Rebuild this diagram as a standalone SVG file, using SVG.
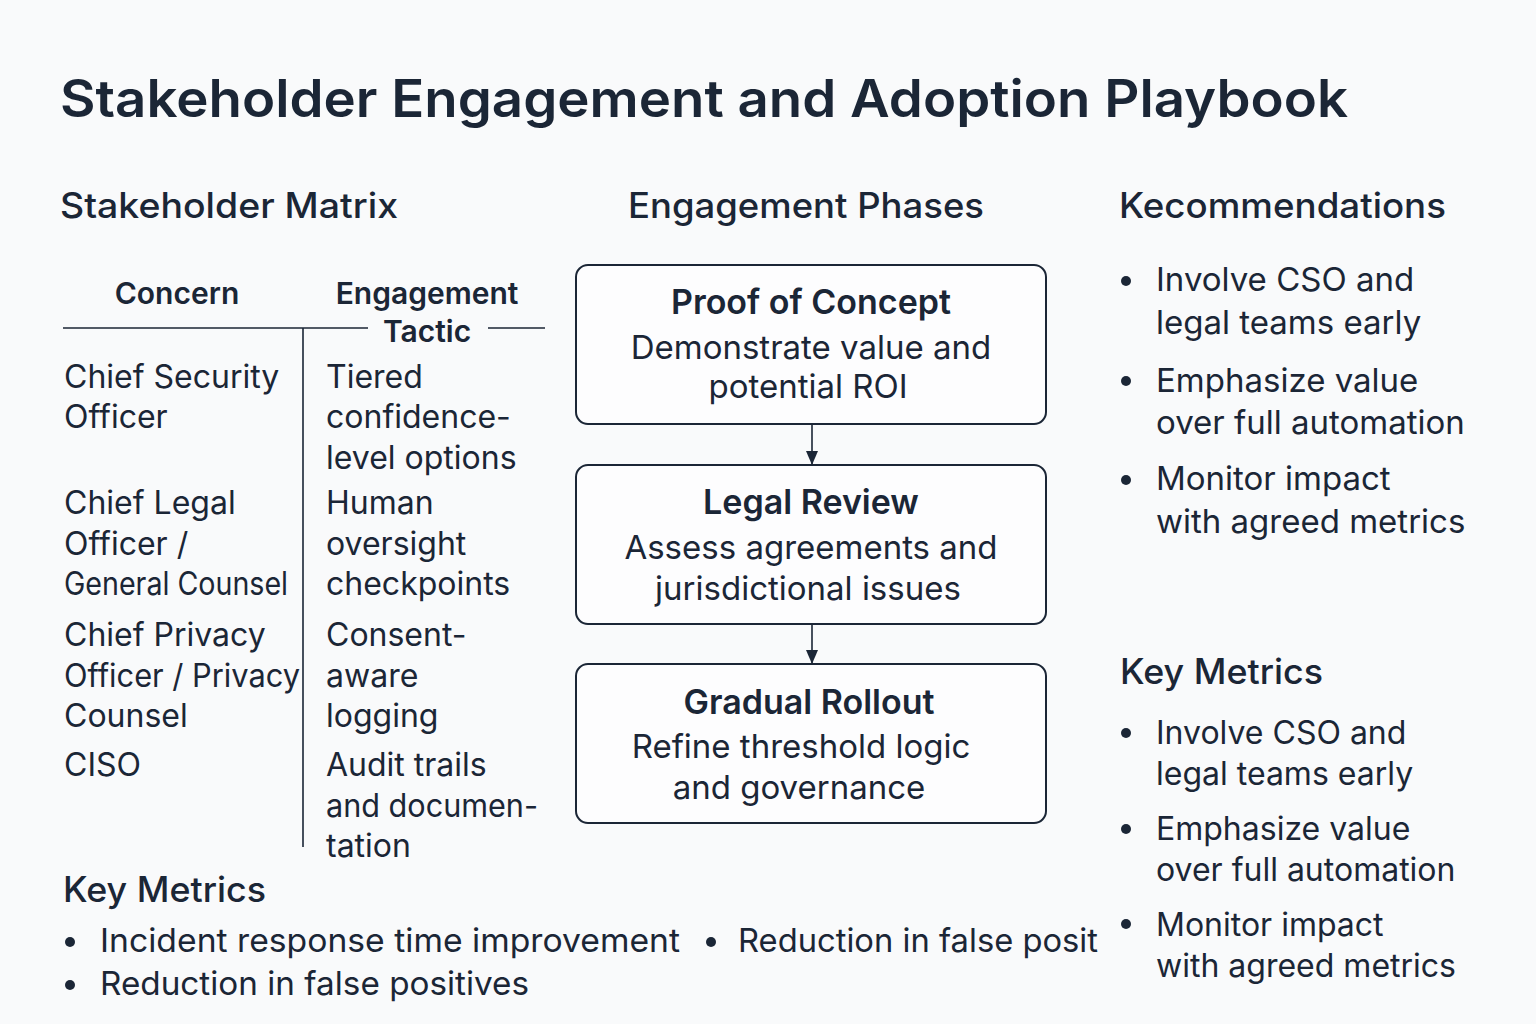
<svg xmlns="http://www.w3.org/2000/svg" width="1536" height="1024" viewBox="0 0 1536 1024">
<defs>
<marker id="ah" markerWidth="14" markerHeight="12" refX="13" refY="6" orient="auto" markerUnits="userSpaceOnUse">
<path d="M0,0 L14,6 L0,12 Z" fill="#1b2636"/>
</marker>
<style>
text{font-family:Inter,"Noto Sans","Liberation Sans",sans-serif;fill:#1b2636}
.title{font-size:52px;font-weight:600}
.h2{font-size:35px;font-weight:500}
.th{font-size:30px;font-weight:600;text-anchor:middle}
.cell{font-size:32px}
.bt{font-size:34px;font-weight:600;text-anchor:middle}
.bd{font-size:33px;text-anchor:middle}
.li{font-size:33px}
.li2{font-size:32px}
.box{fill:#fdfdfe;stroke:#1b2636;stroke-width:2}
.rule{stroke:#1b2636;stroke-width:1.6;fill:none}
.dot{fill:#1b2636}
</style>
</defs>
<rect width="1536" height="1024" fill="#f9fafb"/>
<text class="title" x="60" y="117" textLength="1288" lengthAdjust="spacingAndGlyphs">Stakeholder Engagement and Adoption Playbook</text>

<g id="stakeholder-matrix">
<text class="h2" x="60" y="218" textLength="338" lengthAdjust="spacingAndGlyphs">Stakeholder Matrix</text>
<text class="th" x="177" y="304">Concern</text>
<text class="th" x="427" y="304">Engagement</text>
<text class="th" x="427" y="342">Tactic</text>
<path class="rule" d="M63,328 H368 M488,328 H545 M303,328 V847"/>
<g>
<text class="cell" x="64" y="388">Chief Security</text>
<text class="cell" x="64" y="428">Officer</text>
<text class="cell" x="64" y="514">Chief Legal</text>
<text class="cell" x="64" y="555">Officer /</text>
<text class="cell" x="64" y="595" textLength="224" lengthAdjust="spacingAndGlyphs">General Counsel</text>
<text class="cell" x="64" y="646">Chief Privacy</text>
<text class="cell" x="64" y="687" textLength="236" lengthAdjust="spacingAndGlyphs">Officer / Privacy</text>
<text class="cell" x="64" y="727">Counsel</text>
<text class="cell" x="64" y="776">CISO</text>
<text class="cell" x="326" y="388">Tiered</text>
<text class="cell" x="326" y="428">confidence-</text>
<text class="cell" x="326" y="469">level options</text>
<text class="cell" x="326" y="514">Human</text>
<text class="cell" x="326" y="555">oversight</text>
<text class="cell" x="326" y="595">checkpoints</text>
<text class="cell" x="326" y="646">Consent-</text>
<text class="cell" x="326" y="687">aware</text>
<text class="cell" x="326" y="727">logging</text>
<text class="cell" x="326" y="776">Audit trails</text>
<text class="cell" x="326" y="817" textLength="212" lengthAdjust="spacingAndGlyphs">and documen-</text>
<text class="cell" x="326" y="857">tation</text>
</g>
</g>

<g id="key-metrics-bottom">
<text class="h2" x="63" y="902" textLength="203" lengthAdjust="spacingAndGlyphs">Key Metrics</text>
<circle class="dot" cx="70" cy="942" r="5"/>
<text class="li" x="100" y="952" textLength="580" lengthAdjust="spacingAndGlyphs">Incident response time improvement</text>
<circle class="dot" cx="711" cy="942" r="5"/>
<text class="li" x="738" y="952" textLength="360" lengthAdjust="spacingAndGlyphs">Reduction in false posit</text>
<circle class="dot" cx="70" cy="985" r="5"/>
<text class="li" x="100" y="995" textLength="429" lengthAdjust="spacingAndGlyphs">Reduction in false positives</text>
</g>

<text class="h2" x="628" y="218" textLength="356" lengthAdjust="spacingAndGlyphs">Engagement Phases</text>

<g id="proof-of-concept">
<rect class="box" x="576" y="265" width="470" height="159" rx="12"/>
<text class="bt" x="811" y="314">Proof of Concept</text>
<text class="bd" x="811" y="359">Demonstrate value and</text>
<text class="bd" x="808" y="398">potential ROI</text>
</g>
<g id="legal-review">
<rect class="box" x="576" y="465" width="470" height="159" rx="12"/>
<text class="bt" x="811" y="514">Legal Review</text>
<text class="bd" x="811" y="559">Assess agreements and</text>
<text class="bd" x="808" y="600">jurisdictional issues</text>
</g>
<g id="gradual-rollout">
<rect class="box" x="576" y="664" width="470" height="159" rx="12"/>
<text class="bt" x="809" y="714">Gradual Rollout</text>
<text class="bd" x="801" y="758">Refine threshold logic</text>
<text class="bd" x="799" y="799">and governance</text>
</g>

<g id="connectors">
<path class="rule" d="M812,425 V464" marker-end="url(#ah)"/>
<path class="rule" d="M812,625 V663" marker-end="url(#ah)"/>
</g>

<g id="recommendations">
<text class="h2" x="1119" y="218" textLength="327" lengthAdjust="spacingAndGlyphs">Kecommendations</text>
<circle class="dot" cx="1126" cy="281" r="5"/>
<text class="li" x="1156" y="291">Involve CSO and</text>
<text class="li" x="1156" y="334">legal teams early</text>
<circle class="dot" cx="1126" cy="381" r="5"/>
<text class="li" x="1156" y="392">Emphasize value</text>
<text class="li" x="1156" y="434">over full automation</text>
<circle class="dot" cx="1126" cy="480" r="5"/>
<text class="li" x="1156" y="490">Monitor impact</text>
<text class="li" x="1156" y="533">with agreed metrics</text>
</g>

<g id="key-metrics-right">
<text class="h2" x="1120" y="684" textLength="203" lengthAdjust="spacingAndGlyphs">Key Metrics</text>
<circle class="dot" cx="1126" cy="733" r="5"/>
<text class="li2" x="1156" y="744">Involve CSO and</text>
<text class="li2" x="1156" y="785">legal teams early</text>
<circle class="dot" cx="1126" cy="829" r="5"/>
<text class="li2" x="1156" y="840">Emphasize value</text>
<text class="li2" x="1156" y="881">over full automation</text>
<circle class="dot" cx="1126" cy="924" r="5"/>
<text class="li2" x="1156" y="936">Monitor impact</text>
<text class="li2" x="1156" y="977">with agreed metrics</text>
</g>
</svg>
